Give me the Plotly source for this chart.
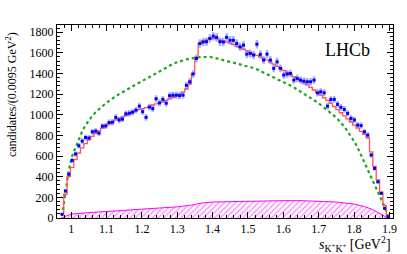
import numpy as np
import plotly.graph_objects as go

# binning (100 bins of 0.0095 GeV^2 from 0.96)
bin_lo = 0.96
bin_width = 0.0095
first_bin = 1

data_counts = [36, 261, 423, 558, 620, 700, 745, 780, 775, 835,
               842, 822, 890, 892, 925, 928, 975, 950, 958, 1010,
               1015, 1025, 1045, 1084, 1030, 975, 1075, 1060, 1155, 1115,
               1150, 1112, 1185, 1190, 1190, 1185, 1190, 1285, 1320, 1395,
               1545, 1690, 1705, 1708, 1740, 1762, 1750, 1708, 1705, 1750,
               1722, 1722, 1690, 1658, 1675, 1588, 1594, 1578, 1684, 1585,
               1530, 1588, 1530, 1450, 1513, 1450, 1385, 1395, 1400, 1336,
               1352, 1336, 1326, 1320, 1320, 1336, 1213, 1223, 1213, 1084,
               1149, 1149, 1101, 1072, 1052, 1013, 965, 950, 900, 895,
               835, 803, 610, 481, 351, 239, 94, 13]

fit_total = [40, 230, 400, 490, 565, 630, 680, 720, 760, 790,
             820, 845, 870, 890, 910, 930, 950, 965, 980, 995,
             1010, 1025, 1040, 1050, 1060, 1070, 1080, 1095, 1105, 1115,
             1125, 1140, 1155, 1170, 1185, 1200, 1220, 1250, 1300, 1400,
             1560, 1690, 1715, 1725, 1735, 1740, 1735, 1725, 1715, 1705,
             1695, 1680, 1665, 1650, 1635, 1620, 1605, 1590, 1575, 1560,
             1545, 1530, 1510, 1490, 1470, 1450, 1430, 1410, 1390, 1370,
             1350, 1330, 1310, 1290, 1265, 1240, 1215, 1190, 1165, 1140,
             1110, 1080, 1050, 1020, 990, 960, 930, 900, 870, 840,
             810, 775, 640, 500, 370, 250, 120, 25]

green_comp = [20, 260, 460, 600, 680, 760, 840, 900, 950, 990,
              1025, 1055, 1085, 1110, 1135, 1160, 1180, 1200, 1220, 1240,
              1258, 1275, 1293, 1312, 1330, 1350, 1368, 1385, 1402, 1420,
              1440, 1460, 1478, 1493, 1506, 1518, 1528, 1537, 1544, 1550,
              1555, 1558, 1560, 1562, 1560, 1555, 1548, 1540, 1532, 1522,
              1513, 1505, 1497, 1490, 1480, 1472, 1463, 1452, 1440, 1425,
              1410, 1395, 1380, 1365, 1350, 1335, 1318, 1300, 1283, 1265,
              1245, 1225, 1205, 1185, 1165, 1143, 1120, 1095, 1070, 1045,
              1020, 990, 960, 925, 885, 840, 795, 740, 680, 610,
              540, 470, 390, 320, 250, 180, 110, 20]

mag_x = [0.972, 0.99, 1.0, 1.05, 1.1, 1.15, 1.2, 1.25, 1.3, 1.34, 1.37, 1.4,
         1.45, 1.5, 1.55, 1.6, 1.65, 1.7, 1.75, 1.8, 1.83, 1.85, 1.87, 1.88, 1.893]
mag_y = [0, 25, 38, 52, 64, 76, 86, 95, 108, 125, 145, 155,
         160, 165, 168, 168, 168, 165, 155, 135, 110, 85, 50, 30, 0]

n = len(data_counts)
centers = [bin_lo + bin_width * (first_bin + i + 0.5) for i in range(n)]
errs = np.sqrt(np.array(data_counts, dtype=float))

serif = "Liberation Serif, Times New Roman, serif"

fig = go.Figure()

fig.add_trace(go.Scatter(
    x=mag_x, y=mag_y, mode="lines", line=dict(color="#ff00ff", width=1),
    fill="tozeroy", fillcolor="rgba(0,0,0,0)",
    fillpattern=dict(shape="/", fgcolor="#ff00ff", bgcolor="rgba(255,255,255,0)",
                     size=4, solidity=0.3, fillmode="overlay"),
    hoverinfo="skip", showlegend=False))

fig.add_trace(go.Scatter(
    x=centers, y=green_comp, mode="lines",
    line=dict(color="#1aa81a", width=2.2, dash="dot"),
    showlegend=False))

fig.add_trace(go.Scatter(
    x=centers, y=fit_total, mode="lines", line_shape="hvh",
    line=dict(color="#ff5555", width=1.3),
    showlegend=False))

fig.add_trace(go.Scatter(
    x=centers, y=data_counts, mode="markers",
    marker=dict(color="#0000ff", size=3, symbol="square"),
    error_y=dict(type="data", array=errs, color="rgba(110,110,255,0.55)",
                 thickness=2.5, width=0),
    error_x=dict(type="constant", value=0.0035, color="#0000ff",
                 thickness=1, width=0),
    showlegend=False))

axis_common = dict(
    showgrid=False, zeroline=False, showline=True, linecolor="black",
    linewidth=1, mirror="ticks", ticks="inside", tickcolor="black",
    automargin=False,
    tickfont=dict(family=serif, size=12, color="black"),
)

fig.update_layout(
    width=407, height=254,
    margin=dict(l=57, r=14, t=25, b=36, autoexpand=False),
    paper_bgcolor="white", plot_bgcolor="white",
    xaxis=dict(range=[0.96, 1.91], dtick=0.1, tick0=1.0, ticklen=6,
               minor=dict(dtick=0.02, ticklen=3, ticks="inside", tickcolor="black"),
               **axis_common),
    yaxis=dict(range=[0, 1870], dtick=200, tick0=0, ticklen=6,
               minor=dict(dtick=40, ticklen=3, ticks="inside", tickcolor="black"),
               **axis_common),
    annotations=[
        dict(text="LHCb", xref="paper", yref="paper", x=0.866, y=0.87,
             xanchor="center", yanchor="middle",
             showarrow=False, font=dict(family=serif, size=18, color="black")),
        dict(text="candidates/(0.0095 GeV<sup>2</sup>)", xref="paper", yref="paper",
             x=-0.135, y=0.64, xanchor="center", yanchor="middle", textangle=-90,
             showarrow=False, font=dict(family=serif, size=12, color="black")),
        dict(text="<i>s</i><sub>K<sup>+</sup>K<sup>+</sup></sub> [GeV<sup>2</sup>]",
             xref="paper", yref="paper", x=1.0, y=-0.072, xanchor="right", yanchor="top",
             showarrow=False, font=dict(family=serif, size=14, color="black")),
    ],
)

fig.write_html("out.html", config={"displayModeBar": False},
               post_script="document.body.style.margin='0px';")
